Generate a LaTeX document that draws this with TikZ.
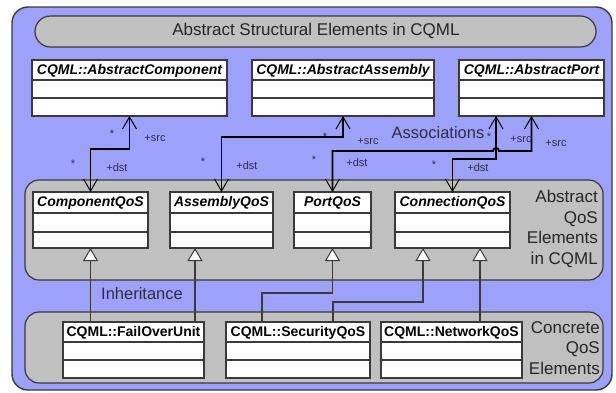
\documentclass[tikz,border=0pt]{standalone}
\usepackage{fontspec}
\setmainfont{Liberation Sans}
\usetikzlibrary{arrows.meta,calc}

\definecolor{bgblue}{RGB}{157,161,250}
\definecolor{panelgray}{RGB}{192,192,192}
\definecolor{edgegray}{RGB}{58,58,58}
\definecolor{labelink}{RGB}{44,46,68}

\newcommand{\absfont}{\fontsize{14}{16}\selectfont\bfseries\itshape}
\newcommand{\cncfont}{\fontsize{14}{16}\selectfont\bfseries}
\newcommand{\bigfont}{\fontsize{17}{20.5}\selectfont}

\tikzset{
  frame/.style={draw=edgegray, line width=1.4pt, fill=bgblue, rounded corners=16pt},
  region/.style={draw=edgegray, line width=1.2pt, fill=panelgray, rounded corners=14pt},
  classbody/.style={draw=edgegray, line width=1.1pt, fill=white, inner sep=0pt, outer sep=0pt},
  classrule/.style={draw=edgegray, line width=1.1pt},
  assoc/.style={draw=black, line width=1.8pt,
    {Straight Barb[length=12pt,width=14pt,line width=1pt]}-{Straight Barb[length=12pt,width=14pt,line width=1pt]}},
  inherit/.style={draw=edgegray, line width=1.1pt,
    -{Triangle[open,fill=white,length=13pt,width=15pt,line width=1pt]}},
  mult/.style={font=\fontsize{11}{12}\selectfont, text=labelink, inner sep=0pt},
  caption/.style={font=\fontsize{16.5}{20}\selectfont, text=labelink, inner sep=0pt},
  sidetext/.style={font=\bigfont, text=black!85, align=right, inner sep=0pt},
}

% UML class box: name, left, top, right, bottom, font, title, header height, row height
\newcommand{\umlbox}[9]{%
  \node[classbody, minimum width={(#4-#2)*1pt}, minimum height={(#5-#3)*1pt}]
    (#1) at ({(#2+#4)/2},{(#3+#5)/2}) {};
  \draw[classrule] ($(#1.north west)+(0,#8)$) -- ($(#1.north east)+(0,#8)$);
  \draw[classrule] ($(#1.north west)+(0,{#8+#9})$) -- ($(#1.north east)+(0,{#8+#9})$);
  \node[font=#6, inner sep=0pt] (#1-name) at ($(#1.north)+(0,{#8/2+0.5})$) {#7};
}

\begin{document}
\begin{tikzpicture}[x=1pt, y=-1pt]
  \useasboundingbox (0,0) rectangle (616,392);

  % background frame and grouping panels
  \path[frame] (12,7) rectangle (612,390);
  \path[draw=edgegray, line width=1.2pt, fill=panelgray, rounded corners=15.5pt] (35,16) rectangle (596,47);
  \node[font=\bigfont, text=black!85, inner sep=0pt] (title) at (316,31) {Abstract Structural Elements in CQML};
  \path[region] (25,180) rectangle (603,280);
  \path[region] (25,312) rectangle (603,383);

  \node[sidetext, anchor=east] (abslabel) at (598,229) {Abstract\\QoS\\Elements\\in CQML};
  \node[sidetext, anchor=east] (cnclabel) at (600,348) {Concrete\\QoS\\Elements};

  % abstract structural classes
  \umlbox{acomp}{32}{60}{227}{116}{\absfont}{CQML::AbstractComponent}{20}{18}
  \umlbox{aasm}{252}{60}{434}{116}{\absfont}{CQML::AbstractAssembly}{20}{18}
  \umlbox{aport}{459}{60}{604}{116}{\absfont}{CQML::AbstractPort}{20}{18}

  % abstract QoS classes
  \umlbox{compq}{33}{192}{148}{248}{\absfont}{ComponentQoS}{21}{19}
  \umlbox{asmq}{170}{192}{273}{248}{\absfont}{AssemblyQoS}{21}{19}
  \umlbox{portq}{294}{192}{371}{248}{\absfont}{PortQoS}{21}{19}
  \umlbox{connq}{395}{192}{510}{248}{\absfont}{ConnectionQoS}{21}{19}

  % concrete QoS classes
  \umlbox{fail}{63}{322}{204}{378}{\cncfont}{CQML::FailOverUnit}{20}{18}
  \umlbox{secq}{226}{322}{370}{378}{\cncfont}{CQML::SecurityQoS}{20}{18}
  \umlbox{netq}{381}{322}{522}{378}{\cncfont}{CQML::NetworkQoS}{20}{18}

  % attachment points that are off the box centres
  \coordinate (aportB) at ($(aport.south west)+(37,0)$);
  \coordinate (asmIn)  at ($(asmq.south west)+(25,0)$);
  \coordinate (connInA) at ($(connq.south west)+(28,0)$);
  \coordinate (connInB) at ($(connq.south west)+(85,0)$);
  \coordinate (secA) at ($(secq.north west)+(36,0)$);
  \coordinate (secB) at ($(secq.north west)+(107,0)$);

  % associations
  \draw[assoc] (compq.north) -- (compq.north |- 0,149) -| (acomp.south);
  \draw[assoc] (asmq.north) -- (asmq.north |- 0,137) -| (aasm.south);
  \draw[assoc] (portq.north) -- (portq.north |- 0,151) -- (493,151)
    arc[start angle=180, end angle=360, radius=3] -- (aport.south |- 0,151) -- (aport.south);
  \draw[assoc] (connq.north) -- (connq.north |- 0,159) -| (aportB);

  % inheritance
  \draw[inherit] (fail.north -| compq.south) -- (compq.south);
  \draw[inherit] (fail.north -| asmIn) -- (asmIn);
  \draw[inherit] (secA) -- (secA |- 0,293) -| (portq.south);
  \draw[inherit] (secB) -- (secB |- 0,302) -| (connInA);
  \draw[inherit] (netq.north -| connInB) -- (connInB);

  % multiplicities and role names
  \node[mult] (m1) at (112,134) {*};
  \node[mult] (r1) at (155,138) {+src};
  \node[mult] (m2) at (73,164) {*};
  \node[mult] (r2) at (117,168) {+dst};
  \node[mult] (m3) at (203,162) {*};
  \node[mult] (r3) at (247,166) {+dst};
  \node[mult] (m4) at (325,137) {*};
  \node[mult] (r4) at (368,141) {+src};
  \node[mult] (m5) at (314,160) {*};
  \node[mult] (r5) at (357,163) {+dst};
  \node[mult] (m6) at (434,165) {*};
  \node[mult] (r6) at (478,168) {+dst};
  \node[mult] (m7) at (489,137) {*};
  \node[mult] (r7) at (521,139) {+src};
  \node[mult] (r8) at (556,143) {+src};

  \node[caption] (assoclabel) at (438,133) {Associations};
  \node[caption] (inhlabel) at (142,294) {Inheritance};
\end{tikzpicture}
\end{document}
